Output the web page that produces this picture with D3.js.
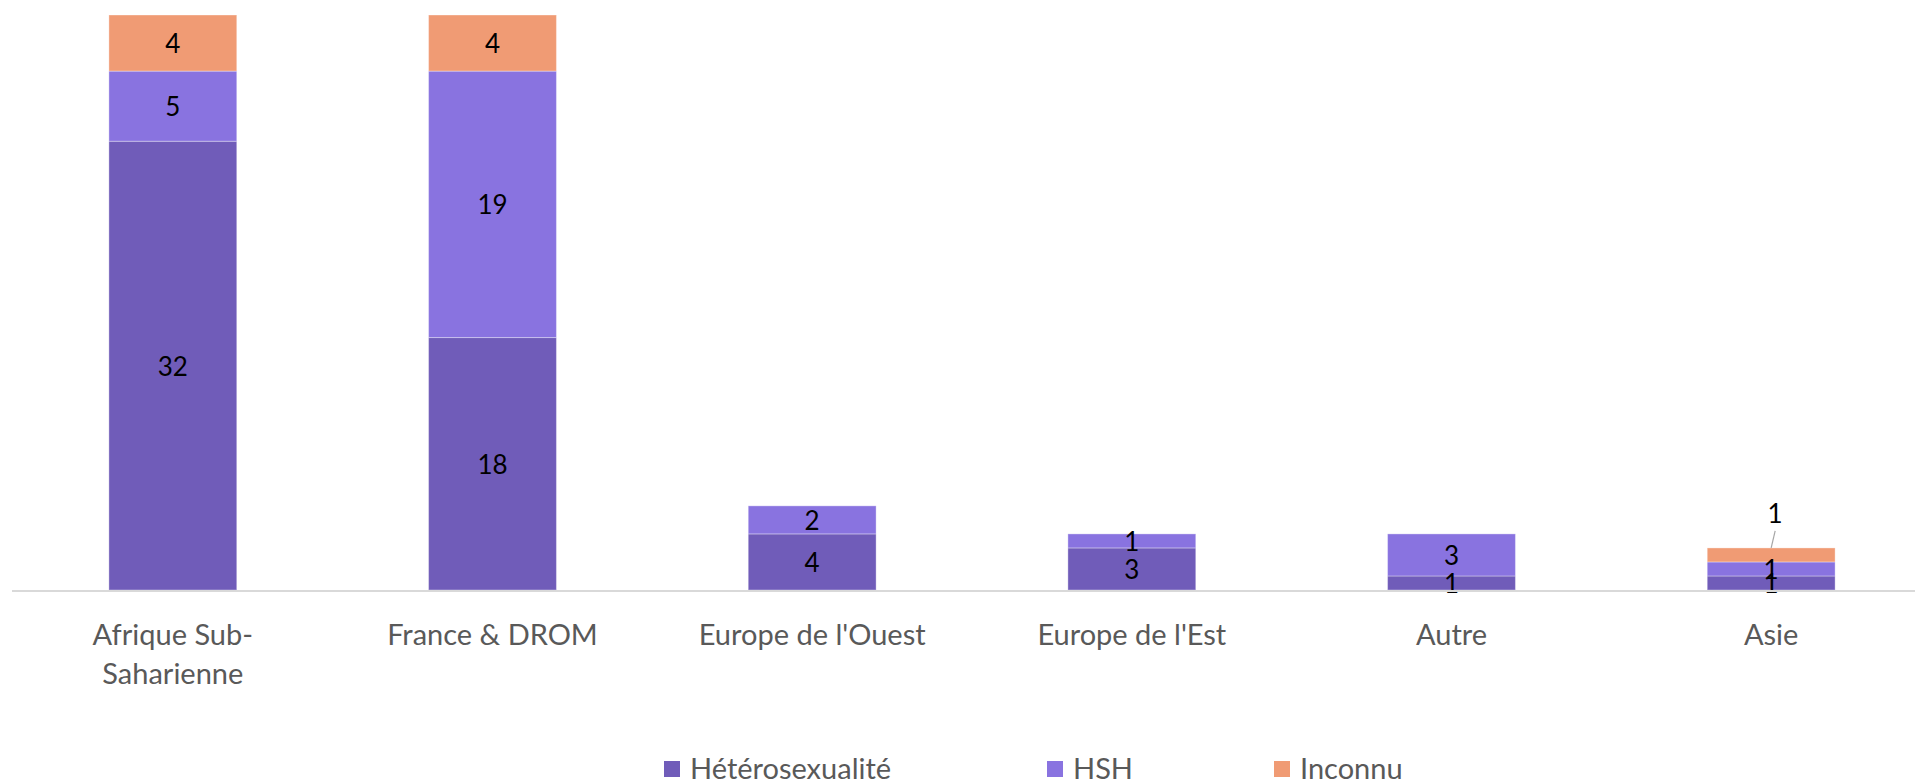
<!DOCTYPE html>
<html>
<head>
<meta charset="utf-8">
<script src="https://cdn.jsdelivr.net/npm/d3@7"></script>
<style>
  body { margin: 0; background: #fff; }
  svg { display: block; }
</style>
</head>
<body>
<div id="chart"></div>
<script>
// data
const categories = ['Afrique Sub-Saharienne', 'France & DROM', "Europe de l'Ouest", "Europe de l'Est", 'Autre', 'Asie'];
const tickLabels = [['Afrique Sub-', 'Saharienne'], ['France & DROM'], ["Europe de l'Ouest"], ["Europe de l'Est"], ['Autre'], ['Asie']];
const seriesNames = ['Hétérosexualité', 'HSH', 'Inconnu'];
const hetero = [32, 18, 4, 3, 1, 1];
const hsh = [5, 19, 2, 1, 3, 1];
const inconnu = [4, 4, 0, 0, 0, 1];

const colors = ['#705cb9', '#8973e0', '#f09b74'];
const W = 1915, H = 783;
const baseY = 590, topY = 15;

const rows = categories.map((c, i) => ({cat: c, 'Hétérosexualité': hetero[i], 'HSH': hsh[i], 'Inconnu': inconnu[i]}));
const stack = d3.stack().keys(seriesNames)(rows);

const x = d3.scaleBand().domain(categories).range([13, 1931]).paddingInner(0.6).paddingOuter(0.3);
const y = d3.scaleLinear().domain([0, 41]).range([baseY, topY]);

const svg = d3.select('#chart').append('svg').attr('width', W).attr('height', H);

const layers = svg.append('g').selectAll('g')
  .data(stack)
  .enter().append('g')
  .attr('fill', (d, i) => colors[i]);

layers.selectAll('rect')
  .data(d => d)
  .enter().append('rect')
  .attr('x', d => x(d.data.cat))
  .attr('width', x.bandwidth())
  .attr('y', d => y(d[1]))
  .attr('height', d => y(d[0]) - y(d[1]))
  .attr('stroke', 'rgba(255,255,255,0.35)')
  .attr('stroke-width', 1);

// data labels
const labelFont = '"Lato", "Open Sans", sans-serif';
const lastCat = categories.length - 1;
stack.forEach(function(layer, li) {
  layer.forEach(function(d, ci) {
    const v = d[1] - d[0];
    if (!v) return;
    let cx = x(d.data.cat) + x.bandwidth() / 2;
    let cy = (y(d[0]) + y(d[1])) / 2;
    // the small orange slice on Asie has its label pulled out above with a leader
    if (li === 2 && ci === lastCat) {
      const top = y(d[1]);
      svg.append('line')
        .attr('x1', cx + 4).attr('y1', top - 17)
        .attr('x2', cx).attr('y2', top)
        .attr('stroke', '#a6a6a6').attr('stroke-width', 1.2);
      cy = top - 35;
      cx += 4;
    }
    svg.append('text')
      .attr('x', cx)
      .attr('y', cy)
      .attr('text-anchor', 'middle')
      .attr('dominant-baseline', 'central')
      .style('font-family', labelFont)
      .style('font-size', '26px')
      .style('fill', '#000')
      .text(v);
  });
});

// x axis line
svg.append('line')
  .attr('x1', 12).attr('x2', W)
  .attr('y1', baseY + 1).attr('y2', baseY + 1)
  .attr('stroke', '#d9d9d9').attr('stroke-width', 2);

// category labels
categories.forEach(function(c, i) {
  const t = svg.append('text')
    .attr('text-anchor', 'middle')
    .style('font-family', labelFont)
    .style('font-size', '29px')
    .style('fill', '#595959');
  tickLabels[i].forEach(function(line, k) {
    t.append('tspan')
      .attr('x', x(c) + x.bandwidth() / 2)
      .attr('y', 645 + k * 39)
      .text(line);
  });
});

// legend
const legendX = [664, 1047, 1274];
seriesNames.forEach(function(s, i) {
  svg.append('rect')
    .attr('x', legendX[i]).attr('y', 761)
    .attr('width', 16).attr('height', 16)
    .attr('fill', colors[i]);
  svg.append('text')
    .attr('x', legendX[i] + 26).attr('y', 779)
    .style('font-family', labelFont)
    .style('font-size', '29px')
    .style('fill', '#595959')
    .text(s);
});
</script>
</body>
</html>
